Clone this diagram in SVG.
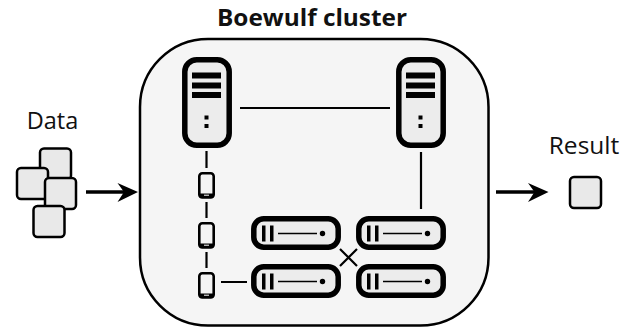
<svg xmlns="http://www.w3.org/2000/svg" width="632" height="328" viewBox="0 0 632 328">
<style>
text{font-family:"Open Sans","Noto Sans",sans-serif;fill:#111}
.d{fill:#e9e9e9;stroke:#000;stroke-width:2.5}
.lg{fill:#ececec;stroke:#000;stroke-width:5.5}
.ph{fill:#f4f4f4;stroke:#000;stroke-width:2.600}
.c{stroke:#000;stroke-width:2.2;fill:none}
</style>
<defs>
<g id="srv">
<rect class="lg" x="184.800" y="59.800" width="44.400" height="85.400" rx="12"/>
<path d="M192 72.500h29v6h-29zM192 82.500h29v6h-29zM192 92h29v6h-29zM204.500 115.500h4v4h-4zM204.500 124h4v4h-4z" fill="#000"/>
</g>
<g id="blade">
<rect class="lg" x="253.800" y="218.800" width="84.400" height="28.400" rx="10"/>
<path d="M262 225.500h3.500v16h-3.500zM270 225.500h3.500v16h-3.500z" fill="#000"/>
<path d="M278 233.500h39" stroke="#000" stroke-width="1.300" fill="none"/>
<circle cx="322.500" cy="233.500" r="2.700" fill="#000"/>
</g>
<g id="phone">
<rect class="ph" x="199.300" y="173.300" width="14.400" height="24.200" rx="3"/>
<path d="M199.300 193.500h14.400v4h-14.400z" fill="#000"/>
<path d="M204 195.200h5" stroke="#fff" stroke-width="1"/>
</g>
</defs>
<g id="cluster"><rect x="140" y="39" width="348.500" height="286.500" rx="68" fill="#f5f5f5" stroke="#000" stroke-width="2.500"/></g>
<text x="312" y="26" text-anchor="middle" font-size="24" font-weight="700" textLength="190" lengthAdjust="spacingAndGlyphs">Boewulf cluster</text>
<g id="connectors">
<path class="c" d="M240 108H390M206.500 151V168M206.500 202V218M206.500 252V268M221 282H247M421 152V209M340 249L357 266M357 249L340 266"/>
<path d="M86 192H131" stroke="#000" stroke-width="3.500"/>
<path d="M117.500 183L138 192L117.500 202L124 192Z" fill="#000"/>
<path d="M496 192H542" stroke="#000" stroke-width="3.500"/>
<path d="M528 183L548.500 192L528 202L534.500 192Z" fill="#000"/>
</g>
<g id="data">
<text x="52.500" y="129" text-anchor="middle" font-size="23.500">Data</text>
<rect class="d" x="40" y="148.500" width="31" height="31" rx="4"/>
<rect class="d" x="17" y="168" width="31" height="31" rx="4"/>
<rect class="d" x="45" y="178" width="31" height="31" rx="4"/>
<rect class="d" x="33.500" y="206" width="31" height="31" rx="4"/>
</g>
<g id="result">
<text x="584" y="154" text-anchor="middle" font-size="24.500">Result</text>
<rect class="d" x="570" y="177" width="31" height="31" rx="4"/>
</g>
<g id="server1"><use href="#srv"/></g>
<g id="server2"><use href="#srv" x="214"/></g>
<g id="phone1"><use href="#phone"/></g>
<g id="phone2"><use href="#phone" y="50"/></g>
<g id="phone3"><use href="#phone" y="100"/></g>
<g id="blade1"><use href="#blade"/></g>
<g id="blade2"><use href="#blade" x="105"/></g>
<g id="blade3"><use href="#blade" y="48"/></g>
<g id="blade4"><use href="#blade" x="105" y="48"/></g>
</svg>
